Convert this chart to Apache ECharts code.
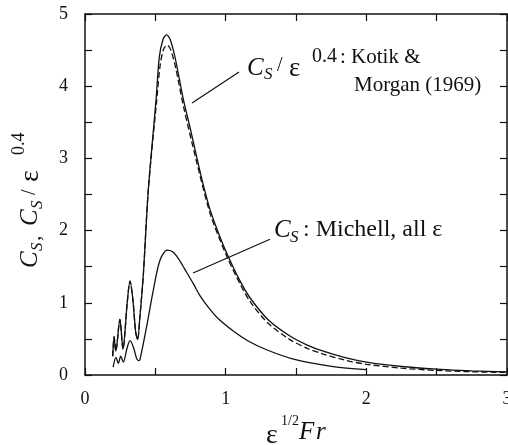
<!DOCTYPE html>
<html>
<head>
<meta charset="utf-8">
<script src="https://cdn.jsdelivr.net/npm/echarts@6/dist/echarts.min.js"></script>
<style>
  html, body { margin: 0; padding: 0; background: #fff; }
  #chart { width: 508px; height: 445px; }
</style>
</head>
<body>
<div id="chart"></div>
<script>
// Horizontal axis: eps^(1/2) Fr ; vertical axis: C_S and C_S / eps^0.4
const xTicks = [0, 0.5, 1, 1.5, 2, 2.5, 3];
const yTicks = [0, 0.5, 1, 1.5, 2, 2.5, 3, 3.5, 4, 4.5, 5];

// C_S / eps^0.4 (solid)
const scaledX = [0.197, 0.207, 0.219, 0.248, 0.27, 0.30, 0.32, 0.34, 0.36, 0.374, 0.39, 0.415, 0.45, 0.505, 0.528, 0.555, 0.58, 0.605, 0.64, 0.70, 0.75, 0.794, 0.84, 0.889, 0.95, 1.007, 1.1, 1.173, 1.3, 1.457, 1.58, 1.694, 1.85, 2.0, 2.25, 2.5, 2.75, 3.0];
const scaledY = [0.26, 0.53, 0.33, 0.77, 0.36, 1.0, 1.30, 1.05, 0.6, 0.49, 0.8, 1.4, 2.56, 3.81, 4.4, 4.65, 4.71, 4.65, 4.4, 3.81, 3.40, 3.02, 2.64, 2.29, 1.96, 1.69, 1.31, 1.07, 0.77, 0.54, 0.415, 0.33, 0.24, 0.178, 0.118, 0.082, 0.058, 0.044];

// Kotik & Morgan (1969), C_S / eps^0.4 (dashed)
const kotikX = [0.197, 0.207, 0.219, 0.248, 0.27, 0.30, 0.32, 0.34, 0.36, 0.374, 0.39, 0.415, 0.45, 0.51, 0.535, 0.56, 0.585, 0.61, 0.645, 0.70, 0.794, 0.889, 1.0, 1.1, 1.173, 1.3, 1.457, 1.58, 1.694, 1.85, 2.0, 2.25, 2.5, 2.75, 3.0];
const kotikY = [0.26, 0.53, 0.33, 0.77, 0.36, 1.0, 1.30, 1.05, 0.6, 0.49, 0.8, 1.4, 2.56, 3.81, 4.3, 4.52, 4.57, 4.5, 4.25, 3.72, 2.95, 2.24, 1.68, 1.27, 1.02, 0.72, 0.49, 0.37, 0.29, 0.205, 0.148, 0.095, 0.063, 0.045, 0.035];

// C_S : Michell, all eps
const michellX = [0.20, 0.22, 0.237, 0.254, 0.272, 0.30, 0.32, 0.345, 0.365, 0.379, 0.39, 0.438, 0.486, 0.533, 0.585, 0.62, 0.652, 0.69, 0.723, 0.77, 0.817, 0.88, 0.95, 1.054, 1.17, 1.29, 1.49, 1.765, 2.0];
const michellY = [0.11, 0.245, 0.16, 0.26, 0.18, 0.38, 0.475, 0.38, 0.24, 0.2, 0.21, 0.67, 1.18, 1.59, 1.73, 1.71, 1.645, 1.53, 1.42, 1.265, 1.10, 0.93, 0.775, 0.61, 0.46, 0.35, 0.215, 0.115, 0.075];

// Leader lines from the curve labels down to the curves
const kotikLeader = [[0.761, 3.767], [1.095, 4.197]];
const michellLeader = [[0.768, 1.413], [1.315, 1.88]];

const zip = (xs, ys) => xs.map((x, i) => [x, ys[i]]);

const FONT = '"Liberation Serif", "Times New Roman", serif';
const INK = '#111';

function axisBase(extra) {
  return Object.assign({
    type: 'value',
    axisLine: { show: true, onZero: false, lineStyle: { color: INK, width: 1.5 } },
    axisTick: { show: true, inside: true, length: 7, lineStyle: { color: INK, width: 1.2 } },
    splitLine: { show: false },
  }, extra);
}

const labelFmt = v => (Math.abs(v - Math.round(v)) < 1e-9 ? String(Math.round(v)) : '');

const chart = echarts.init(document.getElementById('chart'), null, { renderer: 'canvas' });

function txt(x, y, text, size, italic, align) {
  return {
    type: 'text', x: x, y: y, silent: true,
    style: {
      text: text, fill: INK, font: (italic ? 'italic ' : '') + size + 'px ' + FONT,
      align: align || 'left', verticalAlign: 'middle'
    }
  };
}

function curve(name, data, dashed) {
  return {
    name: name, type: 'line', data: data, smooth: 0.3,
    showSymbol: false, z: 3,
    lineStyle: { color: INK, width: 1.3, type: dashed ? [6, 3] : 'solid' }
  };
}

chart.setOption({
  animation: false,
  backgroundColor: '#fff',
  grid: { left: 85, right: 1, top: 14, bottom: 70, containLabel: false, outerBoundsMode: 'none' },
  xAxis: [
    axisBase({
      min: xTicks[0], max: xTicks[xTicks.length - 1], interval: xTicks[1] - xTicks[0], position: 'bottom',
      axisLabel: { formatter: labelFmt, fontSize: 18, margin: 15, color: INK, fontFamily: FONT, showMaxLabel: true, showMinLabel: true }
    }),
    axisBase({
      min: xTicks[0], max: xTicks[xTicks.length - 1], interval: xTicks[1] - xTicks[0], position: 'top',
      axisLabel: { show: false }
    })
  ],
  yAxis: [
    axisBase({
      min: yTicks[0], max: yTicks[yTicks.length - 1], interval: yTicks[1] - yTicks[0], position: 'left',
      axisLabel: { formatter: labelFmt, fontSize: 18, margin: 17, color: INK, fontFamily: FONT, showMaxLabel: true, showMinLabel: true }
    }),
    axisBase({
      min: yTicks[0], max: yTicks[yTicks.length - 1], interval: yTicks[1] - yTicks[0], position: 'right',
      axisLabel: { show: false }
    })
  ],
  series: [
    curve('scaled', zip(scaledX, scaledY), false),
    curve('kotik', zip(kotikX, kotikY), true),
    curve('michell', zip(michellX, michellY), false),
    {
      name: 'kotikLeader', type: 'line', data: kotikLeader, showSymbol: false, silent: true,
      lineStyle: { color: INK, width: 1.2 }
    },
    {
      name: 'michellLeader', type: 'line', data: michellLeader, showSymbol: false, silent: true,
      lineStyle: { color: INK, width: 1.2 }
    }
  ],
  graphic: [
    // Kotik & Morgan label
    txt(247, 68, 'C', 25, true),
    txt(264, 75, 'S', 17, true),
    txt(277, 66, '/', 20, false),
    txt(289, 69, 'ε', 27, false),
    txt(312, 57, '0.4', 20, false),
    txt(340, 57, ': Kotik &', 21, false),
    txt(354, 85, 'Morgan (1969)', 21, false),
    // Michell label
    txt(274, 230, 'C', 25, true),
    txt(290, 238, 'S', 17, true),
    txt(303, 230, ': Michell, all ε', 24, false),
    // x-axis title
    txt(266, 436, 'ε', 28, false),
    txt(281, 421, '1/2', 14, false),
    txt(299, 432, 'F', 25, true),
    txt(316, 432, 'r', 25, true),
    // y-axis title, rotated to read bottom-to-top
    {
      type: 'group', x: 30, y: 268, rotation: Math.PI / 2, silent: true,
      children: [
        txt(0, 0, 'C', 25, true),
        txt(17, 8, 'S', 17, true),
        txt(27, 4, ',', 22, false),
        txt(42, 0, 'C', 25, true),
        txt(59, 8, 'S', 17, true),
        txt(73, 0, '/', 20, false),
        txt(86, 1, 'ε', 28, false),
        txt(113, -11, '0.4', 18, false)
      ]
    }
  ]
});
</script>
</body>
</html>
